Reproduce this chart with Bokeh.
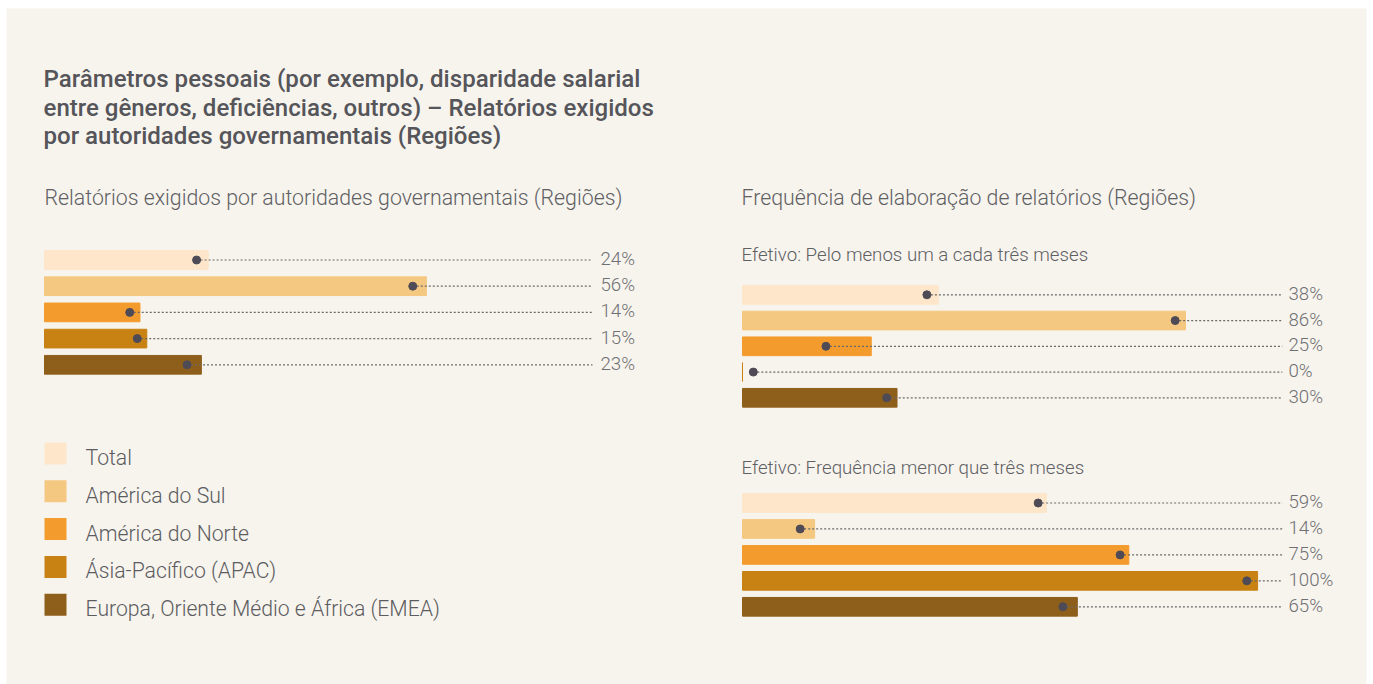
from bokeh.plotting import figure
from bokeh.models import Range1d, ColumnDataSource
from bokeh.core.properties import value
from bokeh.embed import file_html
from bokeh.resources import INLINE

# ---------------- data ----------------
regions = ["Total", "América do Sul", "América do Norte",
           "Ásia-Pacífico (APAC)", "Europa, Oriente Médio e África (EMEA)"]
colors = ["#fde6c9", "#f5c882", "#f49b2d", "#c88214", "#8e5f1b"]

gov_required = [24, 56, 14, 15, 23]
gov_required_marker = [22.3, 54.0, 12.5, 13.6, 20.9]

freq_quarterly = [38, 86, 25, 0, 30]
freq_quarterly_marker = [35.8, 84.0, 16.2, 2.1, 28.0]

freq_less = [59, 14, 75, 100, 65]
freq_less_marker = [57.4, 11.2, 73.3, 97.9, 62.2]

title_lines = ["Parâmetros pessoais (por exemplo, disparidade salarial",
               "entre gêneros, deficiências, outros) – Relatórios exigidos",
               "por autoridades governamentais (Regiões)"]
left_subtitle = "Relatórios exigidos por autoridades governamentais (Regiões)"
right_subtitle = "Frequência de elaboração de relatórios (Regiões)"
top_caption = "Efetivo: Pelo menos um a cada três meses"
bottom_caption = "Efetivo: Frequência menor que três meses"

# ---------------- styles / layout ----------------
PW, PH = 1373, 684            # total canvas
FL, FT, FR, FB = 6, 8, 1366, 684  # beige panel bounds in page pixels
BG = "#f7f4ee"
FONT_LIGHT = value("'Roboto Light', Roboto")
FONT_MED = value("'Roboto Medium', Roboto")
DOT = "#4e4b56"
LINE = "#6a6a6a"

p = figure(width=PW, height=PH, output_backend="svg", toolbar_location=None,
           x_range=Range1d(FL, FR), y_range=Range1d(FB, FT),
           min_border_left=FL, min_border_top=FT,
           min_border_right=PW - FR, min_border_bottom=PH - FB)
p.axis.visible = False
p.xgrid.visible = False
p.ygrid.visible = False
p.outline_line_color = None
p.background_fill_color = BG
p.border_fill_color = "#ffffff"

# title
p.text(x=[43] * 3, y=[78.5, 107, 135.5], text=title_lines,
       text_font=FONT_MED, text_font_size="24px", text_color="#55555a",
       text_baseline="alphabetic", text_align="left")

# subtitles / captions
p.text(x=[44, 741], y=[197, 197], text=[left_subtitle, right_subtitle],
       text_font=FONT_LIGHT, text_font_size="21.3px", text_color="#606063",
       text_baseline="alphabetic")
p.text(x=[741, 741], y=[254, 467], text=[top_caption, bottom_caption],
       text_font=FONT_LIGHT, text_font_size="18.7px", text_color="#606063",
       text_baseline="alphabetic")

panels = [
    # name, values, markers, zero px, px per %, first row px, row step px, line end %, label x px
    ("gov", gov_required, gov_required_marker, 44, 6.82, 259.5, 26.2, 80.35, 600),
    ("q", freq_quarterly, freq_quarterly_marker, 742, 5.151, 294.3, 25.75, 104.8, 1288),
    ("less", freq_less, freq_less_marker, 742, 5.151, 502.5, 25.95, 104.8, 1288),
]

for name, vals, marks, x0, ppu, row0, step, line_end, label_x in panels:
    p.extra_x_ranges[name] = Range1d((FL - x0) / ppu, (FR - x0) / ppu)
    p.extra_y_ranges[name] = Range1d(start=(FB - row0) / step, end=(FT - row0) / step)
    n = len(vals)
    src = ColumnDataSource(dict(
        idx=list(range(n)), val=vals, mark=marks, color=colors,
        end=[line_end] * n, label=[f"{v}%" for v in vals],
        lx=[label_x] * n, ly=[i - 1.0 / step for i in range(n)]))
    p.hbar(y="idx", left=0, right="val", height=18.7 / step, source=src,
           fill_color="color", line_color="color", line_width=1,
           x_range_name=name, y_range_name=name)
    p.segment(x0="mark", y0="idx", x1="end", y1="idx", source=src,
              line_color=LINE, line_width=1.2, line_dash="2 2",
              x_range_name=name, y_range_name=name)
    p.scatter(x="mark", y="idx", source=src, size=8, fill_color=DOT,
              line_color=DOT, x_range_name=name, y_range_name=name)
    p.text(x="lx", y="ly", text="label", source=src, y_range_name=name,
           text_font=FONT_LIGHT, text_font_size="18.7px", text_color="#707073",
           text_baseline="middle", text_align="left")

# legend
leg_y = [453, 490.8, 528.6, 566.4, 604.2]
leg_src = ColumnDataSource(dict(y=leg_y, ty=[v + 4 for v in leg_y], color=colors,
                                name=regions, x=[55] * 5, tx=[85] * 5))
p.rect(x="x", y="y", width=22, height=22, source=leg_src,
       fill_color="color", line_color=None)
p.text(x="tx", y="ty", text="name", source=leg_src, text_font=FONT_LIGHT,
       text_font_size="21.2px", text_color="#5c5c60", text_baseline="middle")

open("out.html", "w").write(file_html(p, INLINE))
